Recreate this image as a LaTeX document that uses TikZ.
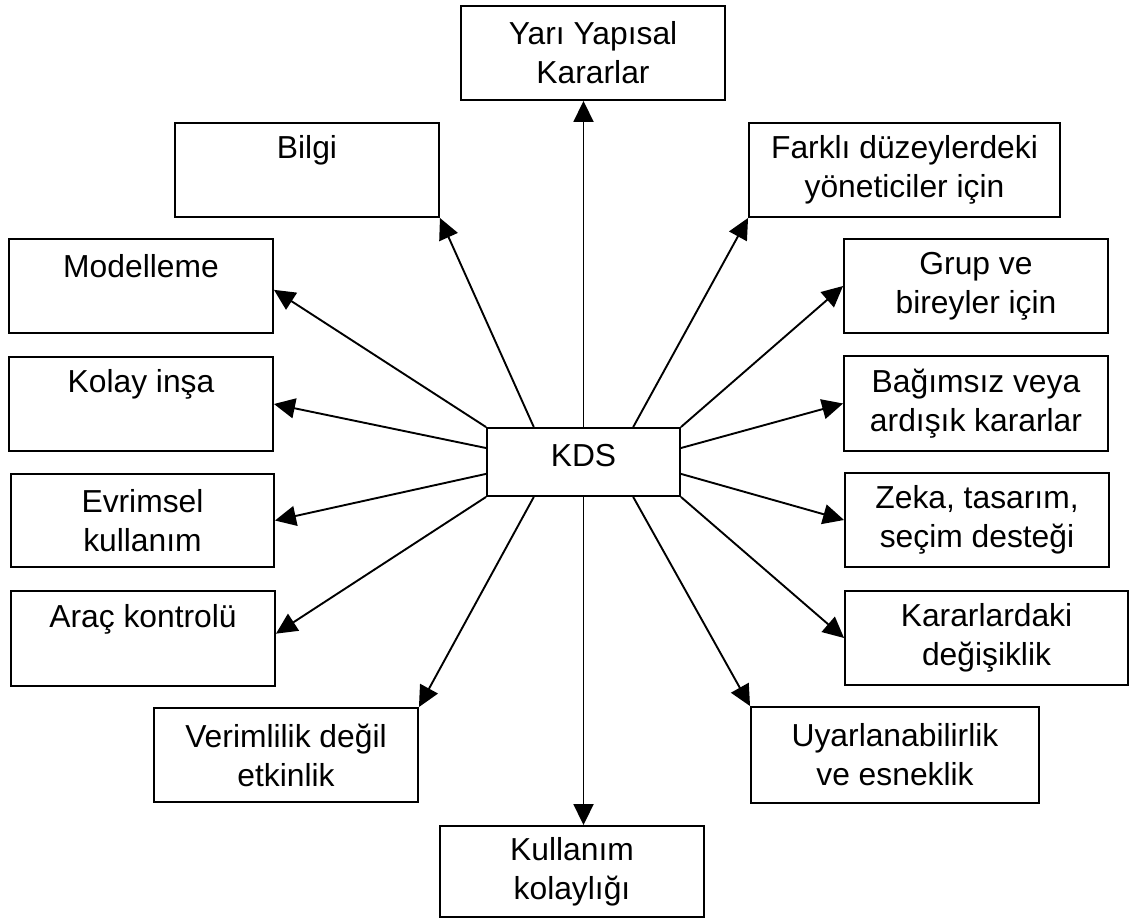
\documentclass[tikz,border=0pt]{standalone}
\usepackage{fontspec}
\setmainfont{Liberation Sans}
\usetikzlibrary{arrows.meta,calc}

\begin{document}
\begin{tikzpicture}[x=1pt,y=-1pt,
  box/.style={draw=black, line width=1.9pt, fill=white, inner sep=0pt,
    align=center, font=\fontsize{31.8}{39}\selectfont},
  link/.style={line width=1.9pt, -{Triangle[length=21pt,width=20pt]}}
]
\useasboundingbox (0,0) rectangle (1130,921);

% central node
\node[box, minimum width=193pt, minimum height=68pt, text depth=14pt] (kds) at (583.5,462) {KDS};

% surrounding properties
\node[box, minimum width=264pt, minimum height=94pt] (yari) at (593,53) {Yarı Yapısal\\Kararlar};
\node[box, minimum width=264pt, minimum height=94pt] (bilgi) at (307,170) {Bilgi\\\phantom{Bilgi}};
\node[box, minimum width=311pt, minimum height=94pt] (farkli) at (904.5,170) {Farklı düzeylerdeki\\yöneticiler için};
\node[box, minimum width=264pt, minimum height=94pt] (model) at (141,286) {Modelleme\\\phantom{Modelleme}};
\node[box, minimum width=264pt, minimum height=94pt] (grup) at (976,286) {Grup ve\\bireyler için};
\node[box, minimum width=264pt, minimum height=94pt] (kolay) at (141,404) {Kolay inşa\\\phantom{Kolay inşa}};
\node[box, minimum width=264pt, minimum height=95pt] (bagimsiz) at (976,403.5) {Bağımsız veya\\ardışık kararlar};
\node[box, minimum width=263pt, minimum height=93pt] (evrim) at (142.5,520.5) {Evrimsel\\kullanım};
\node[box, minimum width=264pt, minimum height=94pt] (zeka) at (977,520) {Zeka, tasarım,\\seçim desteği};
\node[box, minimum width=264pt, minimum height=95pt] (arac) at (143,638.5) {Araç kontrolü\\\phantom{Araç kontrolü}};
\node[box, minimum width=283pt, minimum height=94pt] (karar) at (986.5,638) {Kararlardaki\\değişiklik};
\node[box, minimum width=264pt, minimum height=94pt] (verim) at (286,755) {Verimlilik değil\\etkinlik};
\node[box, minimum width=288pt, minimum height=96pt] (uyar) at (895,755) {Uyarlanabilirlik\\ve esneklik};
\node[box, minimum width=264pt, minimum height=91pt] (kull) at (572,871.5) {Kullanım\\kolaylığı};

% exit points on the central box
\coordinate (kt1) at ($(kds.north west)!0.245!(kds.north east)$);
\coordinate (kt2) at ($(kds.north west)!0.755!(kds.north east)$);
\coordinate (kb1) at ($(kds.south west)!0.245!(kds.south east)$);
\coordinate (kb2) at ($(kds.south west)!0.755!(kds.south east)$);
\coordinate (kl1) at ($(kds.north west)!0.3!(kds.south west)$);
\coordinate (kl2) at ($(kds.north west)!0.67!(kds.south west)$);
\coordinate (kr1) at ($(kds.north east)!0.3!(kds.south east)$);
\coordinate (kr2) at ($(kds.north east)!0.67!(kds.south east)$);

% entry points on the outer boxes
\coordinate (modelin) at ($(model.north east)!0.54!(model.south east)$);
\coordinate (aracin) at ($(arac.north east)!0.45!(arac.south east)$);

% connectors
\draw[link] (kds.north) -- (kds.north |- yari.south);
\draw[link] (kt1) -- (bilgi.south east);
\draw[link] (kt2) -- (farkli.south west);
\draw[link] (kds.north west) -- (modelin);
\draw[link] (kds.north east) -- (grup.west);
\draw[link] (kl1) -- (kolay.east);
\draw[link] (kr1) -- (bagimsiz.west);
\draw[link] (kl2) -- (evrim.east);
\draw[link] (kr2) -- (zeka.west);
\draw[link] (kds.south west) -- (aracin);
\draw[link] (kds.south east) -- (karar.west);
\draw[link] (kb1) -- (verim.north east);
\draw[link] (kb2) -- (uyar.north west);
\draw[link] (kds.south) -- (kds.south |- kull.north);
\end{tikzpicture}
\end{document}
